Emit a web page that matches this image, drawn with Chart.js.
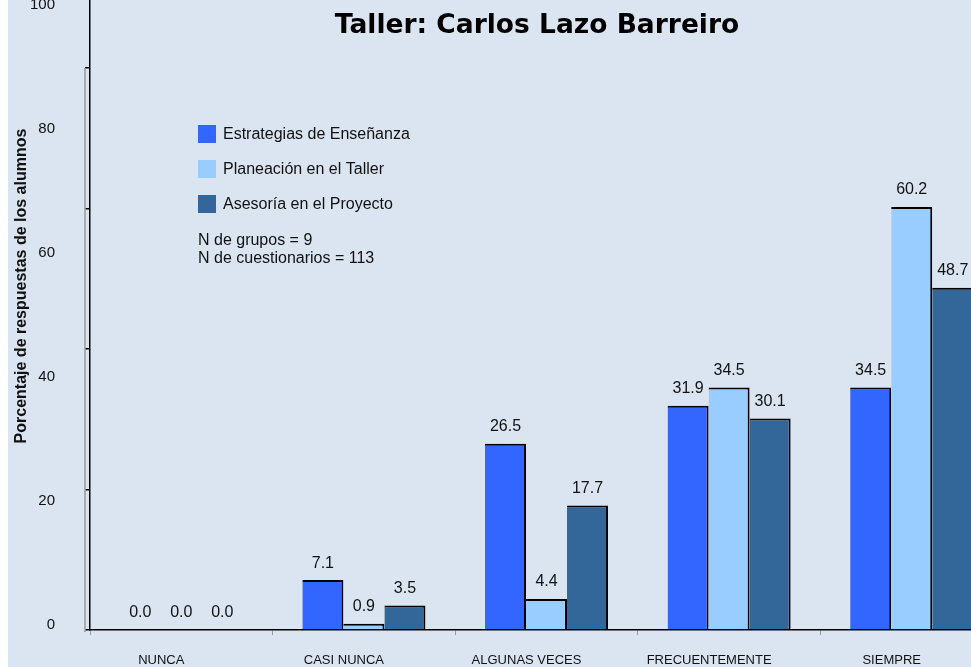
<!DOCTYPE html>
<html><head><meta charset="utf-8">
<script src="https://cdn.jsdelivr.net/npm/chart.js@4"></script>
<style>
html,body{margin:0;padding:0;background:#fff;overflow:hidden;width:971px;height:667px;}
#bg{position:absolute;left:8px;top:0;width:963px;height:667px;background:#dbe5f1;}
#wrap{position:absolute;left:8px;top:-58px;width:995px;height:725px;}
</style></head><body>
<div id="bg"></div>
<div id="wrap"><canvas id="c"></canvas></div>
<script>
const categories = ['NUNCA','CASI NUNCA','ALGUNAS VECES','FRECUENTEMENTE','SIEMPRE'];
const seriesNames = ['Estrategias de Enseñanza','Planeación en el Taller','Asesoría en el Proyecto'];
const estrategias = [0.0, 7.1, 26.5, 31.9, 34.5];
const planeacion = [0.0, 0.9, 4.4, 34.5, 60.2];
const asesoria = [0.0, 3.5, 17.7, 30.1, 48.7];
const yTickLabels = [0, 20, 40, 60, 80, 100];
const titleText = 'Taller: Carlos Lazo Barreiro';
const yTitleText = 'Porcentaje de respuestas de los alumnos';
const notes = ['N de grupos = 9', 'N de cuestionarios = 113'];

const colors = ['#3366ff', '#99ccff', '#336699'];
const FONT = '"Liberation Sans", Arial, sans-serif';

const extras = {
  id: 'extras',
  afterDraw(chart) {
    const ctx = chart.ctx;
    const ca = chart.chartArea;
    const y = chart.scales.y;
    ctx.save();
    // grey wall edge
    ctx.strokeStyle = '#9a9a9a';
    ctx.lineWidth = 1.5;
    ctx.beginPath();
    ctx.moveTo(ca.left - 5, y.getPixelForValue(80));
    ctx.lineTo(ca.left - 5, ca.bottom + 2);
    ctx.stroke();
    // title
    ctx.fillStyle = '#000';
    ctx.font = 'bold 26.5px "DejaVu Sans", sans-serif';
    ctx.textAlign = 'center';
    ctx.textBaseline = 'alphabetic';
    ctx.fillText(titleText, 529, 91);
    // legend
    ctx.textAlign = 'left';
    ctx.textBaseline = 'middle';
    ctx.font = '16px ' + FONT;
    chart.data.datasets.forEach((ds, i) => {
      const top = 183 + i * 35;
      ctx.fillStyle = ds.backgroundColor;
      ctx.fillRect(190, top, 18, 18);
      ctx.fillStyle = '#111';
      ctx.fillText(ds.label, 215, top + 10);
    });
    notes.forEach((t, i) => {
      ctx.fillText(t, 190, 299 + i * 18);
    });
    ctx.restore();
  },
  afterDatasetsDraw(chart) {
    const ctx = chart.ctx;
    ctx.save();
    ctx.fillStyle = '#111';
    ctx.font = '16px ' + FONT;
    ctx.textAlign = 'center';
    ctx.textBaseline = 'middle';
    chart.data.datasets.forEach((ds, i) => {
      chart.getDatasetMeta(i).data.forEach((el, j) => {
        ctx.fillText(ds.data[j].toFixed(1), el.x, el.y - 17);
      });
    });
    ctx.restore();
  }
};

const barBorder = {top: 2, right: 2, left: 0, bottom: 0};
const mk = (i, d) => ({label: seriesNames[i], data: d, backgroundColor: colors[i], borderColor: '#000', borderWidth: barBorder, xAxisID: 'x', yAxisID: 'y'});

new Chart(document.getElementById('c'), {
  type: 'bar',
  data: {
    labels: categories,
    datasets: [mk(0, estrategias), mk(1, planeacion), mk(2, asesoria)]
  },
  options: {
    responsive: true,
    maintainAspectRatio: false,
    animation: false,
    layout: {padding: 0},
    categoryPercentage: 0.674,
    barPercentage: 1.0,
    plugins: {legend: {display: false}, title: {display: false}, tooltip: {enabled: false}},
    scales: {
      x: {
        afterFit: s => { s.height = 37; s.paddingLeft = 0; s.paddingRight = 0; },
        grid: {display: true, drawOnChartArea: false, offset: true, tickLength: 5, color: '#999'},
        border: {display: true, color: '#000', width: 1.5},
        ticks: {padding: 18, labelOffset: -20, color: '#111', font: {family: FONT, size: 13}, maxRotation: 0, autoSkip: false}
      },
      y: {
        position: 'left',
        weight: 0,
        min: 0,
        max: 97.9,
        afterFit: s => { s.width = 5; s.paddingTop = 0; s.paddingBottom = 0; },
        ticks: {display: false, stepSize: 20},
        grid: {display: true, drawOnChartArea: false, tickLength: 5, color: '#000', lineWidth: 1.5},
        border: {display: true, color: '#000', width: 1.5}
      },
      yLab: {
        position: 'left',
        weight: 1,
        min: -0.806,
        max: 110.16,
        afterBuildTicks: s => { s.ticks = yTickLabels.map(v => ({value: v})); },
        afterFit: s => { s.width = 77; s.paddingTop = 0; s.paddingBottom = 0; },
        grid: {display: false, drawTicks: false},
        border: {display: false},
        ticks: {padding: 30, color: '#111', font: {family: FONT, size: 15}},
        title: {display: true, text: yTitleText, color: '#111', padding: {top: 4, bottom: 0}, font: {family: FONT, size: 16, weight: 'bold'}}
      }
    }
  },
  plugins: [extras]
});
</script>
</body></html>
